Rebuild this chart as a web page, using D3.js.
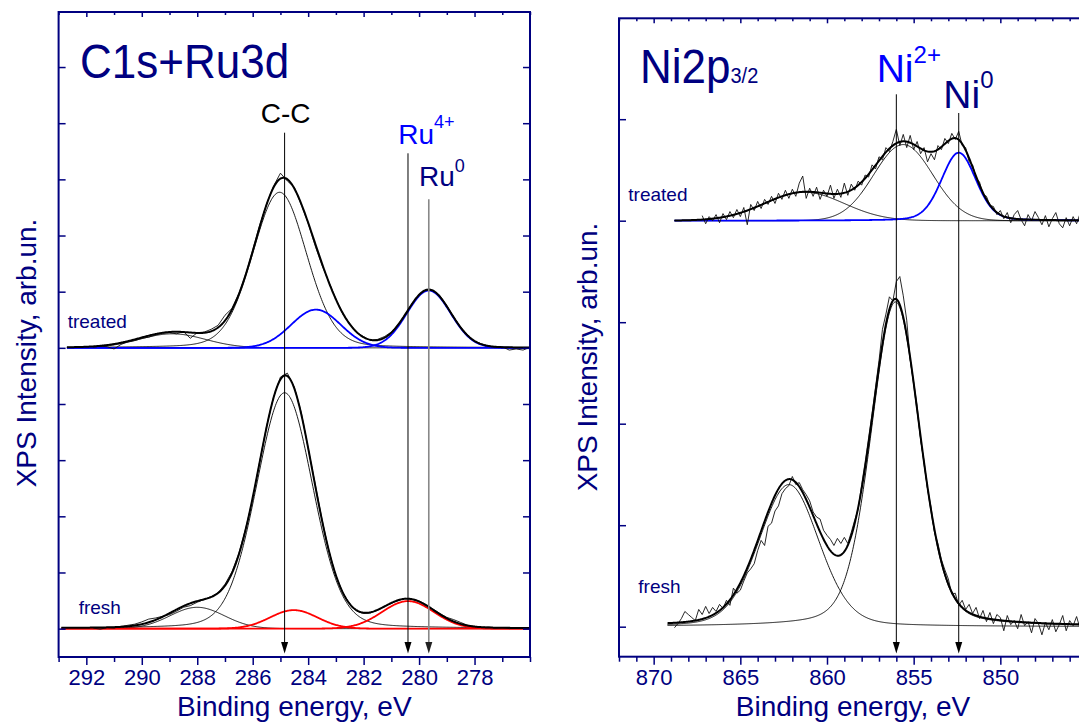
<!DOCTYPE html>
<html><head><meta charset="utf-8">
<script src="https://cdn.jsdelivr.net/npm/d3@7"></script>
<style>
body{margin:0;background:#fff;}
svg{display:block;}
</style>
</head><body>
<svg id="chart" width="1079" height="722"></svg>
<script>
// ===================== DATA =====================
// ---- Left panel: C1s + Ru3d ----
const c1sMajorTicks = [292, 290, 288, 286, 284, 282, 280, 278];
const c1sMinorTicks = [293, 291, 289, 287, 285, 283, 281, 279, 277, 276];
const c1sRawStart = 291.75;      // eV, first raw point
const c1sRawStep = 0.25;         // eV, decreasing
const c1sTreatedRaw = [
  0.01,0.03,0.02,-0.02,0.06,0.11,0.13,0.17,0.19,0.23,
  0.26,0.27,0.25,0.29,0.17,0.27,0.28,0.33,0.40,0.58,
  0.70,0.96,1.31,1.74,2.18,2.56,2.88,3.11,2.97,2.86,
  2.55,2.22,1.82,1.47,1.17,0.87,0.60,0.43,0.27,0.20,
  0.13,0.15,0.20,0.28,0.42,0.60,0.79,0.95,1.03,1.02,
  0.93,0.75,0.55,0.37,0.23,0.12,0.07,0.03,0.01,0.02,
  -0.04,-0.02,-0.04,0.01
];
const c1sFreshRaw = [
  0.01,-0.01,0.02,0.01,0.04,0.06,0.08,0.12,0.17,0.19,
  0.22,0.25,0.31,0.38,0.41,0.47,0.52,0.57,0.64,0.79,
  1.01,1.34,1.79,2.31,2.97,3.60,4.12,4.48,4.55,4.30,
  3.85,3.21,2.58,1.94,1.38,0.94,0.64,0.44,0.31,0.27,
  0.28,0.33,0.40,0.45,0.50,0.54,0.52,0.49,0.43,0.35,
  0.27,0.20,0.16,0.11,0.06,0.04,0.02,0.03,0.01,0.02,
  0.00,0.02,0.01,0.01
];
// fitted components: [centre eV, height, FWHM eV, Lorentzian fraction]
const c1sTreatedPeaks = [[285.03,2.77,2.3,0.15],[288.9,0.25,2.8,0],[283.72,0.68,2.1,0],[279.65,1.02,1.85,0]];
const c1sTreatedKinds = ["C","C","Ru","Ru"];
const c1sFreshPeaks = [[284.85,4.2,2.4,0.15],[288.0,0.38,2.3,0],[284.52,0.33,2.0,0],[280.4,0.49,2.2,0]];
const c1sFreshKinds = ["C","C","Ru","Ru"];
const c1sOffsets = [5, 0];               // treated, fresh (stacking, tick units)
const c1sFitRanges = [[292.7, 276], [292.9, 276]];
const c1sMarkerEnergies = [284.85, 280.4, 279.65];
const c1sMarkerNames = ["C-C", "Ru", "Ru"];
const c1sMarkerSups = ["", "4+", "0"];

// ---- Right panel: Ni2p3/2 ----
const niMajorTicks = [870, 865, 860, 855, 850];
const niMinorTicks = d3.range(872, 844, -1).filter(v => v % 5 !== 0);
const niRawStep = 0.2;
const niTreatedRawStart = 867.2;
const niTreatedRaw = [
  0.05,-0.03,0.04,0.00,0.06,-0.02,0.07,0.01,0.09,0.03,
  0.11,0.04,0.13,-0.04,0.16,0.10,0.19,0.12,0.21,0.16,
  0.24,0.17,0.27,0.21,0.30,0.22,0.31,0.24,0.37,0.44,
  0.22,0.32,0.24,0.33,0.21,0.30,0.24,0.35,0.22,0.31,
  0.23,0.37,0.25,0.36,0.30,0.39,0.35,0.45,0.43,0.55,
  0.51,0.63,0.60,0.72,0.68,0.78,0.90,0.74,0.85,0.72,
  0.84,0.70,0.78,0.66,0.72,0.58,0.66,0.60,0.74,0.70,
  0.81,0.76,0.86,0.80,0.88,0.74,0.72,0.58,0.55,0.42,
  0.38,0.26,0.24,0.15,0.14,0.06,0.10,0.02,0.08,-0.02,
  0.06,0.10,0.01,-0.05,0.06,0.00,0.09,0.03,-0.04,0.05,
  -0.06,0.02,0.08,-0.03,-0.07,0.03,-0.05,0.04,-0.03,0.07
];
const niFreshRawStart = 868.8;
const niFreshRaw = [
  -0.01,0.03,0.08,0.15,0.12,0.09,0.06,0.17,0.12,0.20,
  0.13,0.19,0.15,0.22,0.18,0.26,0.21,0.38,0.33,0.36,
  0.45,0.53,0.57,0.62,0.75,0.85,0.80,0.99,1.02,1.14,
  1.19,1.31,1.36,1.39,1.48,1.40,1.42,1.35,1.30,1.24,
  1.13,1.08,1.06,0.95,0.90,0.86,0.80,0.87,0.82,0.88,
  0.82,0.93,1.05,1.16,1.40,1.62,1.86,2.10,2.36,2.62,
  2.93,3.08,3.25,3.21,3.40,3.45,3.26,3.02,2.63,2.41,
  2.17,1.84,1.63,1.36,1.18,0.93,0.82,0.66,0.56,0.47,
  0.32,0.33,0.21,0.26,0.17,0.22,0.13,0.19,0.08,0.16,
  0.05,0.14,0.03,0.12,0.09,-0.04,0.11,0.02,0.06,-0.02,
  0.12,0.01,0.05,-0.06,0.08,0.03,-0.08,0.04,-0.03,0.07,
  -0.05,0.02,0.11,-0.04,0.06,0.01,0.10,-0.02
];
const niTreatedPeaks = [[861.3,0.28,5.4,0],[855.6,0.75,4.0,0],[852.4,0.67,2.35,0.2]];
const niTreatedKinds = ["sat","Ni2","Ni0"];
const niFreshPeaks = [[862.2,1.40,4.1,0.2],[856.05,3.2,3.3,0.25]];
const niFreshKinds = ["sat","Ni2"];
const niOffsets = [4, 0];
const niFitRanges = [[868.8, 845], [869.2, 845]];
const niMarkerEnergies = [856.0, 852.4];
const niMarkerNames = ["Ni", "Ni"];
const niMarkerSups = ["2+", "0"];

// ===================== DRAWING =====================
const FONT = "'Liberation Sans', Arial, Helvetica, sans-serif";
const NAVY = "#000080";
const BLUE = "#0000ff";
const RED = "#ff0000";
const svg = d3.select("#chart").attr("font-family", FONT);
const defs = svg.append("defs");

function pv(e, p) {
  const r = ((e - p[0]) / p[2]) ** 2;
  return p[1] * ((1 - p[3]) * Math.exp(-4 * Math.LN2 * r) + p[3] / (1 + 4 * r));
}

function panel(cfg) {
  const x = d3.scaleLinear().domain(cfg.xDomain).range(cfg.xRange);
  const y = d3.scaleLinear().domain(cfg.yDomain).range(cfg.yRange);
  const [x0, x1] = cfg.xRange, [y0, y1] = cfg.yRange;
  const g = svg.append("g");

  defs.append("clipPath").attr("id", cfg.id + "clip")
    .append("rect").attr("x", x0).attr("y", y1).attr("width", x1 - x0).attr("height", y0 - y1);
  const plot = g.append("g").attr("clip-path", `url(#${cfg.id}clip)`);
  const line = d3.line().x(d => x(d[0])).y(d => y(d[1]));

  cfg.spectra.forEach(s => {
    const n = 600;
    const grid = d3.range(n + 1).map(i => s.fit[0] + (s.fit[1] - s.fit[0]) * i / n);
    // components
    s.peaks.forEach((p, i) => {
      const c = s.colors[s.kinds[i]] || "#000";
      plot.append("path")
        .attr("d", line(grid.map(e => [e, s.offset + pv(e, p)])))
        .attr("fill", "none").attr("stroke", c)
        .attr("stroke-width", c === "#000" ? 0.9 : 1.8);
    });
    // raw data
    plot.append("path")
      .attr("d", line(s.raw.map((v, i) => [s.rawStart - i * s.rawStep, s.offset + v])))
      .attr("fill", "none").attr("stroke", "#111").attr("stroke-width", 0.9);
    // envelope
    plot.append("path")
      .attr("d", line(grid.map(e => [e, s.offset + d3.sum(s.peaks, p => pv(e, p))])))
      .attr("fill", "none").attr("stroke", "#000").attr("stroke-width", 2);
    // label
    g.append("text").attr("x", s.labelPos[0]).attr("y", s.labelPos[1])
      .attr("font-size", 19).attr("fill", NAVY).text(s.label);
  });

  // marker lines with arrows
  cfg.markers.forEach(m => {
    const mx = x(m.e);
    g.append("line").attr("x1", mx).attr("x2", mx).attr("y1", m.top).attr("y2", 645)
      .attr("stroke", m.color).attr("stroke-width", m.width);
    g.append("path").attr("d", `M${mx - 3.5},642 L${mx + 3.5},642 L${mx},653.5 Z`)
      .attr("fill", m.arrow);
  });

  // frame
  g.append("rect").attr("x", x0).attr("y", y1).attr("width", x1 - x0).attr("height", y0 - y1)
    .attr("fill", "none").attr("stroke", NAVY).attr("stroke-width", 2);

  const styleAxis = sel => {
    sel.select(".domain").remove();
    sel.selectAll(".tick line").attr("stroke", NAVY).attr("stroke-width", 1.5);
  };
  // bottom axis
  const bMaj = g.append("g").attr("transform", `translate(0,${y0})`)
    .call(d3.axisBottom(x).tickValues(cfg.majors).tickSize(8).tickFormat(d3.format("d")))
    .call(styleAxis);
  bMaj.attr("font-size", 22).attr("font-family", FONT);
  bMaj.selectAll(".tick text").attr("y", 28.3).attr("dy", 0).attr("fill", NAVY);
  g.append("g").attr("transform", `translate(0,${y0})`)
    .call(d3.axisBottom(x).tickValues(cfg.minors).tickSize(5).tickFormat(""))
    .call(styleAxis);
  // top axis (inward)
  g.append("g").attr("transform", `translate(0,${y1})`)
    .call(d3.axisTop(x).tickValues(cfg.majors).tickSize(-5).tickFormat(""))
    .call(styleAxis);
  g.append("g").attr("transform", `translate(0,${y1})`)
    .call(d3.axisTop(x).tickValues(cfg.minors).tickSize(-3).tickFormat(""))
    .call(styleAxis);
  // left / right axes (inward, no labels)
  g.append("g").attr("transform", `translate(${x0},0)`)
    .call(d3.axisLeft(y).tickValues(cfg.yTicks).tickSize(-7).tickFormat(""))
    .call(styleAxis);
  g.append("g").attr("transform", `translate(${x1},0)`)
    .call(d3.axisRight(y).tickValues(cfg.yTicks).tickSize(-7).tickFormat(""))
    .call(styleAxis);

  // axis titles
  g.append("text").attr("x", (x0 + x1) / 2).attr("y", 716).attr("text-anchor", "middle")
    .attr("font-size", 28).attr("fill", NAVY).text("Binding energy, eV");
  g.append("text").attr("transform", `translate(${cfg.yTitleX},${cfg.yTitleY}) rotate(-90)`)
    .attr("text-anchor", "middle").attr("font-size", 28).attr("fill", NAVY)
    .text("XPS Intensity, arb.un.");
  return { x, y, g };
}

// ---- left panel ----
const L = panel({
  id: "c1s",
  xDomain: [293, 276], xRange: [58.6, 530],
  yDomain: [-0.505, 10.98], yRange: [657, 12],
  majors: c1sMajorTicks, minors: c1sMinorTicks,
  yTicks: d3.range(0, 11),
  yTitleX: 36, yTitleY: 353,
  spectra: [
    { raw: c1sTreatedRaw, rawStart: c1sRawStart, rawStep: c1sRawStep, peaks: c1sTreatedPeaks,
      kinds: c1sTreatedKinds, colors: { Ru: BLUE }, offset: c1sOffsets[0], fit: c1sFitRanges[0],
      label: "treated", labelPos: [67.7, 328.3] },
    { raw: c1sFreshRaw, rawStart: c1sRawStart, rawStep: c1sRawStep, peaks: c1sFreshPeaks,
      kinds: c1sFreshKinds, colors: { Ru: RED }, offset: c1sOffsets[1], fit: c1sFitRanges[1],
      label: "fresh", labelPos: [78.7, 614] }
  ],
  markers: [
    { e: c1sMarkerEnergies[0], top: 132.7, color: "#000", width: 1, arrow: "#000" },
    { e: c1sMarkerEnergies[1], top: 153.3, color: "#000", width: 1, arrow: "#000" },
    { e: c1sMarkerEnergies[2], top: 199.3, color: "#888", width: 1.6, arrow: "#222" }
  ]
});

// ---- right panel ----
const R = panel({
  id: "ni",
  xDomain: [872, 845], xRange: [619, 1087],
  yDomain: [-0.2956, 5.994], yRange: [656.7, 18.3],
  majors: niMajorTicks, minors: niMinorTicks,
  yTicks: d3.range(0, 6),
  yTitleX: 596.7, yTitleY: 357,
  spectra: [
    { raw: niTreatedRaw, rawStart: niTreatedRawStart, rawStep: niRawStep, peaks: niTreatedPeaks,
      kinds: niTreatedKinds, colors: { Ni0: BLUE }, offset: niOffsets[0], fit: niFitRanges[0],
      label: "treated", labelPos: [628.3, 201] },
    { raw: niFreshRaw, rawStart: niFreshRawStart, rawStep: niRawStep, peaks: niFreshPeaks,
      kinds: niFreshKinds, colors: {}, offset: niOffsets[1], fit: niFitRanges[1],
      label: "fresh", labelPos: [638.3, 593.3] }
  ],
  markers: [
    { e: niMarkerEnergies[0], top: 94.3, color: "#000", width: 1, arrow: "#000" },
    { e: niMarkerEnergies[1], top: 113, color: "#000", width: 1, arrow: "#000" }
  ]
});

// ---- titles & peak labels ----
svg.append("text").attr("transform", "translate(80,77.7) scale(1,1.1)")
  .attr("font-size", 44).attr("fill", NAVY).text("C1s+Ru3d");
const niTitle = svg.append("text").attr("transform", "translate(640,83.3) scale(1,1.1)")
  .attr("fill", NAVY);
niTitle.append("tspan").attr("font-size", 44).text("Ni2p");
niTitle.append("tspan").attr("font-size", 20).text("3/2");

// C-C
svg.append("text").attr("x", L.x(c1sMarkerEnergies[0]) + 1).attr("y", 123)
  .attr("text-anchor", "middle").attr("font-size", 28).attr("fill", "#000").text(c1sMarkerNames[0]);
function supLabel(xp, yp, base, sup, size, supSize, rise, color) {
  const t = svg.append("text").attr("x", xp).attr("y", yp).attr("fill", color);
  t.append("tspan").attr("font-size", size).text(base);
  t.append("tspan").attr("font-size", supSize).attr("dy", -rise).text(sup);
}
supLabel(398.3, 144, c1sMarkerNames[1], c1sMarkerSups[1], 28, 18, 15.7, BLUE);
supLabel(419, 185.7, c1sMarkerNames[2], c1sMarkerSups[2], 28, 18, 14, NAVY);
supLabel(876.7, 81.7, niMarkerNames[0], niMarkerSups[0], 39, 24, 18.4, BLUE);
supLabel(943.3, 108.3, niMarkerNames[1], niMarkerSups[1], 39, 24, 20, NAVY);
</script>
</body></html>
